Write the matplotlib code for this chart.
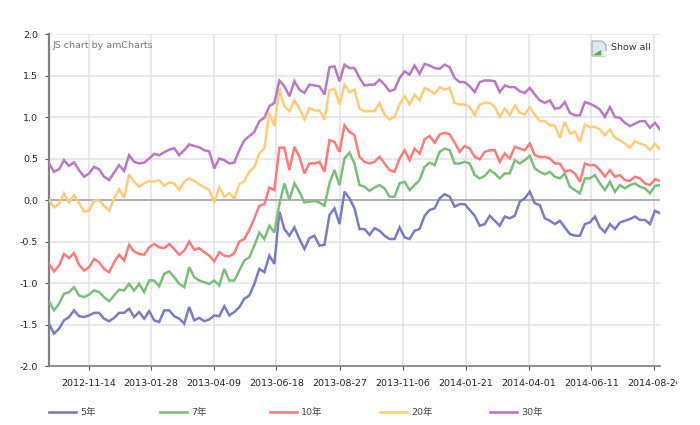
import matplotlib
matplotlib.use('Agg')
import numpy as np
import matplotlib.pyplot as plt
from matplotlib.lines import Line2D
from matplotlib.patches import Polygon, Rectangle
from matplotlib.transforms import Bbox, TransformedBbox

plt.rcParams['font.family'] = ['DejaVu Sans', 'Noto Sans CJK SC']

# values
y5 = [-1.49, -1.61, -1.55, -1.45, -1.41, -1.33, -1.40, -1.41, -1.39, -1.36, -1.36, -1.43, -1.46, -1.42, -1.36, -1.36, -1.31,
      -1.41, -1.35, -1.43, -1.34, -1.45, -1.47, -1.33, -1.33, -1.40, -1.43, -1.49, -1.29, -1.45, -1.42, -1.46, -1.44,
      -1.39, -1.40, -1.28, -1.39, -1.35, -1.29, -1.19, -1.15, -1.01, -0.83, -0.87, -0.67, -0.77, -0.14, -0.35, -0.43,
      -0.33, -0.47, -0.59, -0.46, -0.43, -0.55, -0.54, -0.18, -0.10, -0.29, 0.10, 0.02,
      -0.10, -0.35, -0.35, -0.42, -0.34, -0.37, -0.43, -0.47, -0.47, -0.33, -0.45, -0.47, -0.37, -0.35, -0.19, -0.12,
      -0.10, 0.02, 0.07, 0.04, -0.08, -0.05, -0.05, -0.12, -0.19, -0.31, -0.29, -0.19, -0.25, -0.31, -0.20, -0.22, -0.19,
      -0.02, 0.02, 0.10, -0.04, -0.06, -0.22, -0.25, -0.29, -0.25, -0.33, -0.41, -0.43, -0.43, -0.29, -0.27, -0.20, -0.33,
      -0.39, -0.29, -0.35, -0.27, -0.25, -0.23, -0.20, -0.24, -0.24, -0.29, -0.13, -0.16]
y7 = [-1.22, -1.33, -1.25, -1.13, -1.11, -1.05, -1.15, -1.17, -1.14, -1.09, -1.11, -1.17, -1.22, -1.15, -1.08, -1.09, -1.01,
      -1.09, -1.01, -1.11, -0.97, -0.97, -1.04, -0.89, -0.86, -0.93, -1.01, -1.05, -0.81, -0.93, -0.97, -0.99, -1.01,
      -0.97, -1.03, -0.83, -0.97, -0.97, -0.85, -0.73, -0.69, -0.55, -0.39, -0.47, -0.31, -0.39, -0.05, 0.20, 0.00,
      0.20, 0.10, -0.03, -0.02, -0.01, -0.03, -0.07, 0.20, 0.36, 0.18, 0.50, 0.57,
      0.44, 0.18, 0.16, 0.11, 0.15, 0.18, 0.14, 0.04, 0.04, 0.20, 0.22, 0.12, 0.18, 0.24, 0.40, 0.45, 0.42, 0.58, 0.62, 0.60,
      0.44, 0.44, 0.46, 0.44, 0.30, 0.26, 0.29, 0.36, 0.32, 0.26, 0.32, 0.32, 0.48, 0.44, 0.48, 0.53, 0.38, 0.34, 0.31, 0.34,
      0.28, 0.26, 0.32, 0.16, 0.12, 0.08, 0.26, 0.26, 0.30, 0.20, 0.12, 0.22, 0.10, 0.18, 0.14, 0.18, 0.20, 0.16, 0.14, 0.08,
      0.17, 0.18]
y10 = [-0.77, -0.86, -0.79, -0.65, -0.70, -0.64, -0.78, -0.85, -0.81, -0.71, -0.75, -0.83, -0.87, -0.75, -0.66, -0.73, -0.54,
       -0.62, -0.65, -0.66, -0.57, -0.53, -0.57, -0.58, -0.53, -0.59, -0.66, -0.61, -0.50, -0.60, -0.58, -0.63, -0.67,
       -0.74, -0.63, -0.67, -0.68, -0.64, -0.50, -0.47, -0.36, -0.22, -0.07, -0.05, 0.15, 0.12, 0.63, 0.63, 0.36,
       0.64, 0.52, 0.32, 0.44, 0.44, 0.46, 0.34, 0.72, 0.70, 0.58, 0.90, 0.82,
       0.78, 0.52, 0.46, 0.44, 0.46, 0.52, 0.44, 0.36, 0.34, 0.50, 0.60, 0.48, 0.62, 0.56, 0.73, 0.77, 0.69, 0.79, 0.81, 0.79,
       0.69, 0.58, 0.65, 0.62, 0.52, 0.49, 0.58, 0.60, 0.60, 0.46, 0.56, 0.50, 0.64, 0.62, 0.60, 0.68, 0.54, 0.52, 0.52, 0.50,
       0.44, 0.44, 0.34, 0.36, 0.32, 0.22, 0.44, 0.42, 0.42, 0.36, 0.28, 0.36, 0.28, 0.30, 0.24, 0.23, 0.28, 0.26, 0.20, 0.18,
       0.25, 0.23]
y20 = [0.00, -0.09, -0.05, 0.08, -0.03, 0.06, -0.04, -0.14, -0.13, -0.01, 0.00, -0.07, -0.13, 0.02, 0.13, 0.03, 0.31,
       0.22, 0.16, 0.20, 0.23, 0.22, 0.24, 0.17, 0.21, 0.20, 0.12, 0.22, 0.26, 0.23, 0.19, 0.15, 0.12,
       -0.03, 0.15, 0.04, 0.08, 0.02, 0.19, 0.23, 0.34, 0.40, 0.56, 0.62, 1.05, 0.89, 1.34, 1.13, 1.07, 1.20, 1.10, 0.97,
       1.11, 1.08, 1.08, 0.97, 1.32, 1.34, 1.15, 1.39, 1.30,
       1.33, 1.10, 1.07, 1.07, 1.07, 1.17, 1.03, 0.97, 1.00, 1.15, 1.25, 1.15, 1.27, 1.20, 1.35, 1.32, 1.28, 1.36, 1.33, 1.35,
       1.17, 1.15, 1.15, 1.12, 1.02, 1.15, 1.17, 1.17, 1.12, 1.00, 1.10, 1.02, 1.14, 1.05, 1.03, 1.12, 1.03, 0.95, 0.95, 0.90,
       0.90, 0.75, 0.94, 0.80, 0.82, 0.70, 0.91, 0.88, 0.88, 0.85, 0.78, 0.85, 0.75, 0.72, 0.68, 0.63, 0.71, 0.68, 0.66, 0.60,
       0.68, 0.61]
y30 = [0.44, 0.34, 0.37, 0.48, 0.41, 0.455, 0.36, 0.28, 0.32, 0.40, 0.37, 0.28, 0.24, 0.33, 0.42, 0.35, 0.54, 0.46, 0.44, 0.45,
       0.50, 0.555, 0.54, 0.575, 0.605, 0.625, 0.54, 0.60, 0.67, 0.65, 0.635, 0.60, 0.585,
       0.38, 0.50, 0.48, 0.44, 0.45, 0.60, 0.72, 0.77, 0.82, 0.95, 0.99, 1.13, 1.17, 1.44, 1.37, 1.25, 1.43, 1.33, 1.29, 1.39,
       1.38, 1.37, 1.27, 1.60, 1.61, 1.43, 1.63, 1.59,
       1.59, 1.47, 1.38, 1.39, 1.39, 1.45, 1.39, 1.31, 1.33, 1.47, 1.55, 1.51, 1.62, 1.52, 1.64, 1.62, 1.59, 1.58, 1.63, 1.60,
       1.47, 1.42, 1.42, 1.37, 1.30, 1.42, 1.44, 1.44, 1.43, 1.30, 1.38, 1.36, 1.36, 1.31, 1.29, 1.35, 1.27, 1.20, 1.17, 1.20,
       1.10, 1.11, 1.18, 1.05, 1.02, 1.02, 1.18, 1.16, 1.13, 1.09, 1.00, 1.12, 1.00, 0.99, 0.93, 0.89, 0.92, 0.95, 0.95, 0.87,
       0.93, 0.85]

series = [y5, y7, y10, y20, y30]
names = ['5年', '7年', '10年', '20年', '30年']
colors = ['#7b7bc4', '#7bbd7b', '#ff7b7b', '#ffcc7b', '#b878c4']
tick_dates = ['2012-11-14', '2013-01-28', '2013-04-09', '2013-06-18', '2013-08-27',
              '2013-11-06', '2014-01-21', '2014-04-01', '2014-06-11', '2014-08-20']
tick_pos = [7.9, 20.4, 32.9, 45.4, 58.1, 70.6, 83.2, 95.8, 108.3, 120.9]
y_ticks = [-2.0, -1.5, -1.0, -0.5, 0.0, 0.5, 1.0, 1.5, 2.0]
legend_x = [49, 160, 270, 380, 490]

W, H = 700, 425
fig = plt.figure(figsize=(7, 4.25), dpi=100)
ax = fig.add_axes([49 / W, 1 - 366 / H, 611 / W, 332 / H])

for vals, name, c in zip(series, names, colors):
    x = np.linspace(0, 122, len(vals))
    ax.plot(x, vals, color=c, lw=1.8, label=name, solid_joinstyle='miter', zorder=3)

ax.set_xlim(0, 122)
ax.set_ylim(-2, 2)
ax.set_xticks(tick_pos)
ax.set_xticklabels(tick_dates)
ax.set_yticks(y_ticks)
ax.set_yticklabels(['%.1f' % v for v in y_ticks])
ax.grid(True, color='#e2e2e2', lw=1.1)
ax.set_axisbelow(True)
ax.axhline(0, color='#a0a0a0', lw=1.1, zorder=2)
ax.tick_params(axis='both', labelsize=6.8, labelcolor='#222222', color='#555555', length=3, width=0.8, pad=5)
ax.tick_params(axis='x', pad=6)
ax.spines['top'].set_visible(False)
ax.spines['right'].set_visible(False)
ax.spines['left'].set_color('#808080')
ax.spines['left'].set_linewidth(1.6)
ax.spines['bottom'].set_color('#808080')
ax.spines['bottom'].set_linewidth(1.2)

# last date label is cut off at the chart edge
clip = TransformedBbox(Bbox([[0, 0], [677 / W, 1]]), fig.transFigure)
for lab in ax.get_xticklabels():
    lab.set_clip_box(clip)
    lab.set_clip_on(True)

fig.text(53 / W, 1 - 46 / H, 'JS chart by amCharts', fontsize=6.8, color='#777777', va='center')
fig.text(611 / W, 1 - 48 / H, 'Show all', fontsize=6.8, color='#333333', va='center')

# broken image icon next to Show all
def px(pts):
    return [(a / W, 1 - b / H) for a, b in pts]

fig.add_artist(Polygon(px([(592, 41), (602, 41), (606, 45), (606, 56), (592, 56)]), closed=True,
                       facecolor='#dfe8f5', edgecolor='#a8a8a8', lw=0.8, transform=fig.transFigure))
fig.add_artist(Polygon(px([(593, 55), (601, 50), (604, 55)]), closed=True, facecolor='#5fa83c',
                       edgecolor='none', transform=fig.transFigure))
fig.add_artist(Rectangle((601 / W, 1 - 56 / H), 6 / W, 5 / H, facecolor='white', edgecolor='none',
                         transform=fig.transFigure, alpha=0.7))

# legend row
for lx, name, c in zip(legend_x, names, colors):
    fig.add_artist(Line2D([lx / W, (lx + 27) / W], [1 - 412 / H, 1 - 412 / H], color=c, lw=1.9,
                          transform=fig.transFigure))
    fig.text((lx + 31) / W, 1 - 412 / H, name, fontsize=6.8, color='#444444', va='center')

fig.savefig('out.png', dpi=100)
